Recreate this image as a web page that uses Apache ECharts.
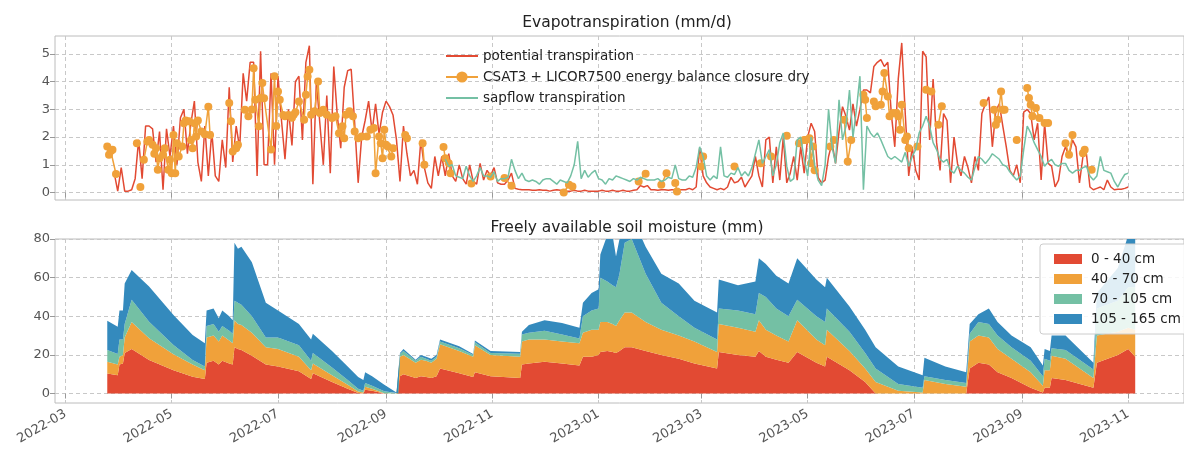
<!DOCTYPE html>
<html>
<head>
<meta charset="utf-8">
<title>Evapotranspiration and soil moisture</title>
<script src="https://cdn.jsdelivr.net/npm/echarts@6/dist/echarts.min.js"></script>
<style>
html, body { margin: 0; padding: 0; background: #fff; }
#chart { width: 1184px; height: 450px; }
</style>
</head>
<body>
<div id="chart"></div>
<script>
// x axis tick labels (every 2nd month)
var tickMonths = ['2022-03', '2022-05', '2022-07', '2022-09', '2022-11', '2023-01',
                  '2023-03', '2023-05', '2023-07', '2023-09', '2023-11'];

// potential transpiration (mm/d), one value every 2nd day from petStart
var petStart = '2022-03-29';
var pet = [
  0.7, 0.05, 0.9, 0.05, 0.05, 0.1, 0.5, 1.9, 0.5, 2.4,
  2.4, 2.3, 1.1, 2.2, 0.1, 2.3, 1.3, 2.4, 1.0, 2.7,
  3.0, 1.4, 2.5, 3.3, 1.1, 0.4, 2.4, 0.6, 2.2, 0.6,
  0.4, 1.9, 0.9, 3.8, 1.1, 2.4, 1.6, 4.3, 3.3, 4.7,
  4.7, 0.6, 5.1, 1.0, 1.0, 4.3, 1.0, 4.2, 2.6, 1.2,
  3.0, 1.7, 4.0, 4.2, 1.9, 4.7, 5.3, 0.3, 4.0, 2.5,
  1.0, 3.5, 0.7, 4.55, 2.8, 1.6, 3.8, 4.4, 4.45, 2.5,
  0.35, 2.0, 2.6, 3.3, 2.2, 3.2, 2.1, 2.9, 3.3, 3.1,
  2.8, 1.9, 0.4, 2.4, 1.4, 0.6, 0.8, 0.3, 1.9, 0.9,
  0.35, 0.15, 1.3, 0.6, 1.3, 0.6, 1.4, 0.6, 0.4, 1.0,
  0.5, 0.3, 1.0, 0.4, 0.3, 1.05, 0.45, 0.8, 0.6, 0.9,
  0.35, 0.3, 0.3, 0.45, 0.7, 0.15, 0.12, 0.1, 0.1, 0.1,
  0.08, 0.08, 0.1, 0.08, 0.08, 0.05, 0.08, 0.1, 0.08, 0.05,
  0.05, 0.05, 0.08, 0.05, 0.05, 0.08, 0.05, 0.05, 0.05, 0.05,
  0.08, 0.05, 0.05, 0.08, 0.05, 0.05, 0.08, 0.05, 0.05, 0.08,
  0.1, 0.25, 0.2, 0.25, 0.1, 0.1, 0.08, 0.1, 0.1, 0.08,
  0.1, 0.1, 0.1, 0.1, 0.1, 0.15, 0.1, 0.2, 1.6, 0.6,
  0.35, 0.2, 0.15, 0.1, 0.15, 0.1, 0.2, 0.55, 0.35, 0.4,
  0.55, 0.2, 0.4, 0.6, 1.3, 0.6, 0.2, 1.9, 2.0, 0.35,
  1.65, 0.45, 2.0, 0.35, 0.7, 1.3, 0.45, 1.65, 0.7, 2.0,
  2.5, 2.2, 0.55, 0.35, 0.45, 1.3, 1.8, 1.05, 2.2, 3.1,
  2.75, 2.25, 3.2, 2.4, 3.0, 3.7, 3.7, 3.6, 4.55, 4.7,
  4.8, 4.55, 4.7, 2.85, 1.65, 4.1, 5.4, 2.85, 0.6, 1.65,
  0.8, 0.45, 5.1, 4.9, 1.9, 4.1, 1.8, 0.8, 2.85, 2.6,
  0.35, 2.0, 1.05, 0.6, 1.3, 0.9, 0.35, 1.3, 0.8, 2.85,
  3.2, 3.45, 1.65, 2.95, 3.2, 2.4, 1.65, 0.8, 0.6, 1.0,
  0.35, 2.9, 3.0, 2.85, 1.9, 2.5, 0.45, 2.5, 1.05, 0.95,
  0.2, 0.45, 1.3, 1.65, 1.3, 1.9, 1.65, 0.35, 1.3, 1.4,
  0.2, 0.1, 0.15, 0.2, 0.1, 0.45, 0.2, 0.1, 0.12, 0.12,
  0.15, 0.2
];

// sapflow transpiration (mm/d), one value every 2nd day from sapStart
var sapStart = '2022-10-05';
var sap = [
  1.2, 0.95, 1.0, 0.6, 0.55, 0.5, 0.95, 0.6, 0.4, 0.6,
  0.9, 0.6, 0.6, 0.55, 0.75, 0.4, 0.5, 0.5, 0.55, 1.2,
  0.8, 0.5, 0.7, 0.45, 0.4, 0.45, 0.4, 0.3, 0.45, 0.5,
  0.5, 0.4, 0.3, 0.45, 0.4, 0.35, 0.6, 1.0, 1.85, 0.5,
  0.8, 0.55, 0.7, 0.8, 0.5, 0.45, 0.3, 0.5, 0.45, 0.6,
  0.55, 0.5, 0.45, 0.4, 0.5, 0.45, 0.55, 0.5, 0.45, 0.45,
  0.45, 0.5, 0.4, 0.45, 0.55, 0.5, 1.0, 0.5, 0.45, 0.45,
  0.6, 0.55, 0.9, 1.65, 1.3, 0.6, 0.45, 0.6, 0.5, 1.65,
  0.6, 0.55, 0.7, 0.65, 0.9, 0.6, 0.75, 0.6, 0.9, 1.4,
  1.9, 1.05, 1.3, 1.55, 0.6, 1.0, 1.8, 2.15, 0.95, 0.4,
  0.5, 1.9, 2.0, 1.2, 0.6, 2.0, 1.0, 0.45, 0.25, 1.0,
  3.0, 1.65, 1.05, 3.35, 1.9, 2.4, 3.7, 2.0, 3.0, 4.2,
  0.1, 2.4, 2.15, 2.0, 2.15, 1.9, 1.6, 1.3, 1.2, 1.3,
  1.2, 1.1, 1.45, 0.95, 1.3, 1.55, 2.15, 2.4, 2.75, 2.4,
  1.8, 1.55, 1.2, 1.1, 1.2, 0.8, 0.7, 0.95, 0.8, 0.7,
  0.55, 0.45, 0.9, 1.3, 1.2, 1.05, 1.2, 1.4, 1.3, 1.2,
  1.0, 0.95, 0.75, 0.6, 0.45, 0.6, 1.55, 2.4, 2.15, 1.8,
  1.55, 1.3, 0.95, 1.1, 1.2, 1.0, 0.95, 1.05, 1.05, 0.8,
  0.7, 0.8, 0.8, 0.9, 0.95, 0.6, 0.45, 0.6, 1.3, 0.8,
  0.75, 0.7, 0.4, 0.2, 0.45, 0.65, 0.7
];

// CSAT3 + LICOR7500 energy balance closure dry (mm/d); null = gap in the record
var ecData = [
  ['2022-03-25', 1.66], ['2022-03-26', 1.36], ['2022-03-27', 1.5], ['2022-03-28', 1.54], ['2022-03-30', 0.67], null,
  ['2022-04-11', 1.78], null,
  ['2022-04-13', 0.2], null,
  ['2022-04-15', 1.18], ['2022-04-17', 1.84], ['2022-04-18', 1.9], ['2022-04-20', 1.72], ['2022-04-21', 1.4],
  ['2022-04-22', 1.6], ['2022-04-23', 0.82], ['2022-04-24', 1.24], ['2022-04-26', 1.36], ['2022-04-27', 1.6],
  ['2022-04-29', 0.82], ['2022-04-30', 1.18], ['2022-05-01', 0.7], ['2022-05-02', 2.08], ['2022-05-03', 0.7],
  ['2022-05-04', 1.78], ['2022-05-05', 1.3], ['2022-05-07', 1.66], ['2022-05-08', 2.5], ['2022-05-09', 2.6],
  ['2022-05-11', 2.57], ['2022-05-12', 1.9], ['2022-05-13', 1.6], ['2022-05-14', 2.5], ['2022-05-15', 2.02],
  ['2022-05-16', 2.6], ['2022-05-18', 2.2], ['2022-05-20', 2.1], ['2022-05-22', 3.1], ['2022-05-23', 2.08], null,
  ['2022-06-03', 3.23], ['2022-06-04', 2.57], ['2022-06-05', 1.48], ['2022-06-07', 1.6], ['2022-06-08', 1.72], null,
  ['2022-06-12', 2.99], ['2022-06-14', 2.75], ['2022-06-16', 3.0], ['2022-06-17', 4.49], ['2022-06-18', 3.35],
  ['2022-06-20', 2.39], ['2022-06-21', 3.41], ['2022-06-22', 3.95], ['2022-06-23', 3.4], ['2022-06-27', 1.55],
  ['2022-06-29', 4.2], ['2022-06-30', 2.4], ['2022-07-01', 3.65], ['2022-07-02', 3.35], ['2022-07-04', 2.8],
  ['2022-07-05', 2.75], ['2022-07-07', 2.8], ['2022-07-09', 2.7], ['2022-07-10', 2.81], ['2022-07-11', 2.9],
  ['2022-07-13', 3.29], ['2022-07-16', 2.63], ['2022-07-17', 3.53], ['2022-07-18', 4.19], ['2022-07-19', 4.43],
  ['2022-07-20', 2.81], ['2022-07-22', 2.93], ['2022-07-24', 4.01], ['2022-07-25', 2.87], ['2022-07-27', 2.99],
  ['2022-07-29', 2.81], ['2022-08-01', 2.69], ['2022-08-03', 2.75], ['2022-08-05', 2.14], ['2022-08-07', 2.39],
  ['2022-08-08', 1.96], ['2022-08-09', 2.81], ['2022-08-11', 2.93], ['2022-08-13', 2.75], ['2022-08-14', 2.2],
  ['2022-08-16', 1.96], ['2022-08-18', 2.02], ['2022-08-21', 2.02], ['2022-08-23', 2.27], ['2022-08-25', 2.33],
  ['2022-08-26', 0.7], ['2022-08-28', 2.02], ['2022-08-29', 1.78], ['2022-08-30', 1.24], ['2022-08-31', 2.27],
  ['2022-09-01', 1.72], ['2022-09-02', 1.66], ['2022-09-04', 1.3], ['2022-09-05', 1.6], null,
  ['2022-09-12', 2.08], ['2022-09-13', 1.96], null,
  ['2022-09-22', 1.78], ['2022-09-23', 1.0], null,
  ['2022-10-04', 1.64], ['2022-10-05', 1.24], ['2022-10-07', 1.06], ['2022-10-08', 0.7], null,
  ['2022-10-20', 0.33], null,
  ['2022-10-31', 0.58], null,
  ['2022-11-08', 0.52], ['2022-11-12', 0.24], null,
  ['2022-12-12', 0.0], ['2022-12-15', 0.28], ['2022-12-17', 0.22], null,
  ['2023-01-24', 0.4], ['2023-01-28', 0.68], null,
  ['2023-02-06', 0.28], ['2023-02-09', 0.7], null,
  ['2023-02-14', 0.34], ['2023-02-15', 0.04], null,
  ['2023-03-01', 0.94], ['2023-03-02', 1.3], null,
  ['2023-03-20', 0.94], null,
  ['2023-04-04', 1.06], null,
  ['2023-04-10', 1.3], null,
  ['2023-04-19', 2.05], null,
  ['2023-04-26', 1.78], ['2023-04-29', 1.9], ['2023-04-30', 1.9], ['2023-05-02', 1.96], ['2023-05-03', 1.06],
  ['2023-05-04', 1.66], ['2023-05-05', 0.8], null,
  ['2023-05-14', 1.66], ['2023-05-16', 1.9], null,
  ['2023-05-22', 2.63], ['2023-05-24', 1.12], ['2023-05-26', 1.9], null,
  ['2023-06-02', 3.53], ['2023-06-03', 3.35], ['2023-06-04', 2.69], null,
  ['2023-06-08', 3.29], ['2023-06-09', 3.11], null,
  ['2023-06-12', 3.17], ['2023-06-13', 3.65], ['2023-06-14', 4.31], ['2023-06-16', 3.47], ['2023-06-17', 2.75],
  ['2023-06-19', 2.87], ['2023-06-21', 2.87], ['2023-06-22', 2.75], ['2023-06-23', 2.27], ['2023-06-24', 3.17],
  ['2023-06-26', 1.9], ['2023-06-27', 2.02], ['2023-06-28', 1.6], null,
  ['2023-07-03', 1.66], null,
  ['2023-07-08', 3.71], ['2023-07-11', 3.65], null,
  ['2023-07-15', 2.45], ['2023-07-17', 3.11], null,
  ['2023-08-10', 3.23], null,
  ['2023-08-16', 2.99], ['2023-08-17', 2.45], ['2023-08-18', 2.63], ['2023-08-20', 3.65], ['2023-08-21', 2.99],
  ['2023-08-22', 2.99], null,
  ['2023-08-29', 1.9], null,
  ['2023-09-04', 3.77], ['2023-09-05', 3.41], ['2023-09-06', 3.17], ['2023-09-07', 2.75], ['2023-09-09', 3.05],
  ['2023-09-11', 2.69], ['2023-09-14', 2.51], ['2023-09-16', 2.51], null,
  ['2023-09-26', 1.78], ['2023-09-28', 1.36], ['2023-09-30', 2.08], null,
  ['2023-10-06', 1.42], ['2023-10-07', 1.54], null,
  ['2023-10-11', 0.82]
];

// freely available soil moisture (mm) per depth layer
var soilDates = [
  '2022-03-25', '2022-03-31', '2022-04-01', '2022-04-03', '2022-04-04', '2022-04-08', '2022-04-18', '2022-05-02', '2022-05-13', '2022-05-20',
  '2022-05-21', '2022-05-25', '2022-05-28', '2022-05-30', '2022-06-03', '2022-06-05', '2022-06-06', '2022-06-08', '2022-06-10', '2022-06-16',
  '2022-06-24', '2022-07-01', '2022-07-13', '2022-07-20', '2022-07-21', '2022-08-01', '2022-08-10', '2022-08-16', '2022-08-19', '2022-08-20',
  '2022-08-24', '2022-08-31', '2022-09-07', '2022-09-08', '2022-09-09', '2022-09-11', '2022-09-18', '2022-09-21', '2022-09-24', '2022-09-27',
  '2022-09-30', '2022-10-02', '2022-10-13', '2022-10-21', '2022-10-22', '2022-10-31', '2022-11-17', '2022-11-18', '2022-11-22', '2022-12-01',
  '2022-12-11', '2022-12-21', '2022-12-23', '2022-12-28', '2023-01-01', '2023-01-02', '2023-01-06', '2023-01-09', '2023-01-11', '2023-01-13',
  '2023-01-16', '2023-01-20', '2023-01-28', '2023-02-06', '2023-02-16', '2023-02-25', '2023-03-10', '2023-03-11', '2023-03-22', '2023-04-01',
  '2023-04-03', '2023-04-07', '2023-04-13', '2023-04-20', '2023-04-25', '2023-05-06', '2023-05-11', '2023-05-12', '2023-05-25', '2023-06-03',
  '2023-06-09', '2023-06-22', '2023-07-06', '2023-07-07', '2023-07-19', '2023-07-31', '2023-08-02', '2023-08-07', '2023-08-13', '2023-08-18',
  '2023-08-26', '2023-09-06', '2023-09-13', '2023-09-14', '2023-09-17', '2023-09-18', '2023-09-26', '2023-10-12', '2023-10-14', '2023-10-26',
  '2023-11-01', '2023-11-05'
];
var soil0_40 = [
  10.4, 9.5, 15, 15.5, 21, 23, 17.3, 12.1, 8.7, 7.5,
  16, 17, 15, 17, 15.5, 15, 24, 23, 22.5, 19.5,
  15, 14, 11.5, 7.5, 10.5, 6, 2.5, 0.3, 0, 2,
  1.5, 0, 0, 0, 9, 10, 8, 9, 8.5, 8,
  9, 13, 10.5, 8.5, 11, 9, 8, 15, 15.5, 16.5,
  15.5, 14.5, 19, 19, 20, 21.5, 22, 21.5, 21, 22,
  24, 24, 22, 20, 18, 15.5, 13, 21.5, 20, 19,
  22, 19, 17.5, 16, 21.5, 16, 14, 19, 12, 6,
  0, 0, 0, 0, 0, 0, 13, 16, 15, 11,
  8, 3, 0.5, 3, 3, 8, 7, 3, 16, 20,
  23, 19
];
var soil40_70 = [
  6.1, 5.5, 4, 4.5, 8, 14, 11.3, 8.2, 6.3, 4.5,
  13, 13, 12, 13, 12, 11, 14, 13, 13, 12,
  9, 9, 7.5, 4.5, 5, 3.5, 2, 0.7, 0.5, 1.5,
  1, 0.2, 0, 0, 10, 10, 8, 8.5, 8.5, 8,
  9, 12.5, 11.5, 10.5, 14, 11, 11, 12, 12.5, 11.5,
  11.5, 11.5, 12.5, 14, 13, 15.5, 15, 14.5, 14, 16,
  18, 18, 15, 13, 12, 11.5, 8.5, 14.5, 14, 13,
  16, 14, 12.5, 11, 16.5, 12, 11, 14, 10, 7,
  6, 1.5, 0.5, 7, 5, 3.5, 14, 14, 14, 12,
  10, 8, 3.5, 9, 9, 11.5, 11, 5, 14, 12,
  11, 14
];
var soil70_105 = [
  6, 5.5, 9, 8, 7, 11.5, 8.6, 4.8, 2.3, 2,
  6, 6, 5, 5, 5, 5, 10, 11, 10.5, 8.5,
  5, 6, 6, 5, 5.5, 4, 2.5, 1.5, 1, 2,
  1.5, 1, 0.2, 0.1, 1.5, 2, 1, 1.5, 1, 1,
  1, 1.5, 1.5, 1, 1.5, 1, 1.6, 3.5, 3.5, 4.5,
  3.5, 2.5, 8.5, 10, 11, 23, 21, 20, 20, 24,
  36, 38, 25, 14, 10, 7, 6.5, 8, 9, 9,
  14, 17, 14, 13, 10.5, 12, 12, 11, 10, 8,
  7, 3.5, 2.5, 2, 2, 2, 4, 7, 7, 7,
  6, 6, 5, 6, 5, 4, 4.5, 4.5, 14, 16,
  21, 22
];
var soil105_165 = [
  15.2, 14.1, 15, 15, 21, 15.5, 18.2, 15.6, 13, 12,
  8, 8, 7, 8, 7.5, 7, 30, 28, 30, 28,
  18, 14, 11, 11, 10, 8.5, 7, 6, 5.5, 5.5,
  5, 3.3, 0.3, 0.2, 0.5, 1, 0.5, 1, 1, 1,
  1, 1, 1, 0.5, 1, 1, 0.9, 1.5, 4, 5.5,
  6, 5.5, 7, 9, 10, 12, 24, 26, 16, 18,
  12, 12, 14, 15, 17, 14, 14, 15, 13, 17,
  18, 17, 17, 17, 21.5, 19, 18, 16, 13, 12,
  11, 9, 6.5, 9.5, 7, 5.5, 5, 4, 8, 7,
  6, 7, 5.5, 5, 5, 6.5, 7.5, 3.5, 8, 17,
  27, 25
];

var RED = '#E24A33', ORANGE = '#F0A13A', TEAL = '#74C0A4', BLUE = '#348ABD';
var FONT = 'DejaVu Sans';

function toTime(s) {
  var p = s.split('-');
  return new Date(+p[0], +p[1] - 1, p[2] ? +p[2] : 1).getTime();
}
// series stored as one value every 2nd day
function everyOtherDay(start, vals) {
  var p = start.split('-');
  return vals.map(function (v, i) {
    return [new Date(+p[0], +p[1] - 1, +p[2] + 2 * i).getTime(), v];
  });
}

var ecSeries = [];
var lastT = null;
ecData.forEach(function (d) {
  if (d === null) { ecSeries.push([lastT, '-']); }
  else { lastT = toTime(d[0]); ecSeries.push([lastT, d[1]]); }
});

var tickTimes = tickMonths.map(toTime);
var xMin = toTime('2022-02-23');
var xMax = toTime('2023-12-03');

var gridLine = { show: true, lineStyle: { color: '#c8c8c8', type: [4, 3], width: 1 } };

// x is a plain value axis holding timestamps, so the month ticks can be placed exactly
function xAxisFor(idx, labels) {
  return {
    type: 'value', gridIndex: idx, min: xMin, max: xMax,
    axisLine: { show: false },
    axisTick: { show: true, customValues: tickTimes, length: 5, lineStyle: { color: '#999' } },
    axisLabel: {
      show: labels, customValues: tickTimes, rotate: 30, margin: 10,
      color: '#555', fontSize: 13, fontFamily: FONT,
      formatter: function (v) {
        var d = new Date(v);
        var m = d.getMonth() + 1;
        return d.getFullYear() + '-' + (m < 10 ? '0' + m : m);
      }
    },
    splitLine: gridLine
  };
}
function yAxisFor(idx, min, max, ticks) {
  return {
    type: 'value', gridIndex: idx, min: min, max: max,
    axisLine: { show: false },
    axisTick: { show: true, customValues: ticks, length: 5, lineStyle: { color: '#999' } },
    axisLabel: { customValues: ticks, color: '#555', fontSize: 13, fontFamily: FONT, margin: 5 },
    splitLine: gridLine
  };
}

// value first, time second: the stack is then summed on the y values, not on x
function soilLayer(name, vals, color) {
  return {
    name: name, type: 'line', xAxisIndex: 1, yAxisIndex: 1, stack: 'soil',
    data: soilDates.map(function (d, i) { return [vals[i], toTime(d)]; }),
    encode: { x: 1, y: 0 },
    symbol: 'none', color: color,
    lineStyle: { width: 0 }, areaStyle: { color: color, opacity: 1 }
  };
}

var chart = echarts.init(document.getElementById('chart'));
chart.setOption({
  animation: false,
  backgroundColor: '#fff',
  title: [
    { text: 'Evapotranspiration (mm/d)', left: 622, top: 10, textAlign: 'center',
      textStyle: { fontFamily: FONT, fontSize: 15.5, fontWeight: 'normal', color: '#222' } },
    { text: 'Freely available soil moisture (mm)', left: 622, top: 215, textAlign: 'center',
      textStyle: { fontFamily: FONT, fontSize: 15.5, fontWeight: 'normal', color: '#222' } }
  ],
  grid: [
    { left: 55, top: 36, width: 1135, height: 164, show: true, borderColor: '#bcbcbc', borderWidth: 1 },
    { left: 55, top: 239, width: 1135, height: 164, show: true, borderColor: '#bcbcbc', borderWidth: 1 }
  ],
  legend: [
    { orient: 'vertical', left: 440, top: 44, itemWidth: 32, itemHeight: 14, itemGap: 7,
      textStyle: { fontFamily: FONT, fontSize: 13.5, color: '#222' },
      data: [
        // plain lines in the legend: hide the marker drawn on the line icon
        { name: 'potential transpiration', itemStyle: { opacity: 0 } },
        { name: 'CSAT3 + LICOR7500 energy balance closure dry' },
        { name: 'sapflow transpiration', itemStyle: { opacity: 0 } }
      ] },
    { orient: 'vertical', left: 1040, top: 244, icon: 'rect', itemWidth: 28, itemHeight: 10, itemGap: 6,
      padding: [8, 10, 8, 14], backgroundColor: 'rgba(255,255,255,0.85)', borderColor: '#cccccc', borderWidth: 1, borderRadius: 3,
      textStyle: { fontFamily: FONT, fontSize: 13.5, color: '#222', padding: [0, 0, 0, 4] },
      data: ['0 - 40 cm', '40 - 70 cm', '70 - 105 cm', '105 - 165 cm'] }
  ],
  xAxis: [xAxisFor(0, false), xAxisFor(1, true)],
  yAxis: [yAxisFor(0, -0.27, 5.65, [0, 1, 2, 3, 4, 5]), yAxisFor(1, -4.9, 80, [0, 20, 40, 60, 80])],
  series: [
    { name: 'potential transpiration', type: 'line', xAxisIndex: 0, yAxisIndex: 0,
      data: everyOtherDay(petStart, pet), symbol: 'none', color: RED, lineStyle: { width: 1.5, color: RED }, z: 2 },
    { name: 'CSAT3 + LICOR7500 energy balance closure dry', type: 'line', xAxisIndex: 0, yAxisIndex: 0,
      data: ecSeries, symbol: 'circle', symbolSize: 8, showAllSymbol: true, color: ORANGE,
      itemStyle: { color: ORANGE }, lineStyle: { width: 1.5, color: ORANGE }, z: 3 },
    { name: 'sapflow transpiration', type: 'line', xAxisIndex: 0, yAxisIndex: 0,
      data: everyOtherDay(sapStart, sap), symbol: 'none', color: TEAL, lineStyle: { width: 1.5, color: TEAL }, z: 4 },
    soilLayer('0 - 40 cm', soil0_40, RED),
    soilLayer('40 - 70 cm', soil40_70, ORANGE),
    soilLayer('70 - 105 cm', soil70_105, TEAL),
    soilLayer('105 - 165 cm', soil105_165, BLUE)
  ]
});
</script>
</body>
</html>
